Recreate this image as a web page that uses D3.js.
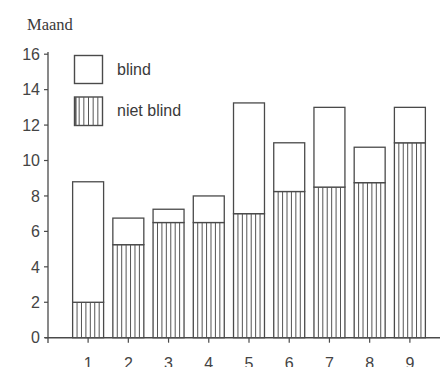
<!DOCTYPE html>
<html>
<head>
<meta charset="utf-8">
<script src="https://cdn.jsdelivr.net/npm/d3@7"></script>
<style>
  html, body { margin: 0; padding: 0; background: #fff; }
  svg { display: block; }
</style>
</head>
<body>
<script>
const categories = ["1", "2", "3", "4", "5", "6", "7", "8", "9"];
const nietBlind = [2.0, 5.25, 6.5, 6.5, 7.0, 8.25, 8.5, 8.75, 11.0];
const blind = [6.8, 1.5, 0.75, 1.5, 6.25, 2.75, 4.5, 2.0, 2.0];
const yTicks = [0, 2, 4, 6, 8, 10, 12, 14, 16];
const legendLabels = ["blind", "niet blind"];
const yTitle = "Maand";

const W = 440, H = 367;
const svg = d3.select("body").append("svg").attr("width", W).attr("height", H);

const ink = "#4a4a4a";
const x = d3.scaleBand().domain(categories).range([68, 430]).paddingInner(0.23).paddingOuter(0.115);
const y = d3.scaleLinear().domain([0, 16]).range([337.7, 54.2]);

// Y axis
svg.append("line").attr("x1", 48).attr("x2", 48).attr("y1", 52).attr("y2", 343)
  .attr("stroke", ink).attr("stroke-width", 1.3);
const yt = svg.append("g");
yTicks.forEach(t => {
  yt.append("line").attr("x1", 44).attr("x2", 48).attr("y1", y(t)).attr("y2", y(t))
    .attr("stroke", ink).attr("stroke-width", 1.2);
  yt.append("text").attr("x", 40).attr("y", y(t)).attr("dy", "0.36em")
    .attr("text-anchor", "end").attr("font-family", "Liberation Sans, Arial, sans-serif")
    .attr("font-size", 16).attr("fill", "#444").text(t);
});

// X axis
svg.append("line").attr("x1", 45).attr("x2", 440).attr("y1", y(0)).attr("y2", y(0))
  .attr("stroke", ink).attr("stroke-width", 1.4);
categories.forEach(c => {
  const cx = x(c) + x.bandwidth() / 2;
  svg.append("line").attr("x1", cx).attr("x2", cx).attr("y1", y(0)).attr("y2", y(0) + 5)
    .attr("stroke", ink).attr("stroke-width", 1.2);
  svg.append("text").attr("x", cx).attr("y", 368.5).attr("text-anchor", "middle")
    .attr("font-family", "Liberation Sans, Arial, sans-serif").attr("font-size", 16)
    .attr("fill", "#444").text(c);
});

// Bars
const bars = svg.append("g");
categories.forEach((c, i) => {
  const x0 = x(c), bw = x.bandwidth();
  const yN = y(nietBlind[i]), yT = y(nietBlind[i] + blind[i]);
  // niet blind (hatched)
  bars.append("rect").attr("x", x0).attr("y", yN).attr("width", bw).attr("height", y(0) - yN)
    .attr("fill", "#fff").attr("stroke", ink).attr("stroke-width", 1.3);
  const n = 7;
  for (let k = 1; k < n; k++) {
    const lx = x0 + bw * k / n;
    bars.append("line").attr("x1", lx).attr("x2", lx).attr("y1", yN).attr("y2", y(0))
      .attr("stroke", "#555").attr("stroke-width", 1);
  }
  // blind (open)
  bars.append("rect").attr("x", x0).attr("y", yT).attr("width", bw).attr("height", yN - yT)
    .attr("fill", "#fff").attr("stroke", ink).attr("stroke-width", 1.3);
});

// Legend
const lg = svg.append("g");
lg.append("rect").attr("x", 74.5).attr("y", 55.5).attr("width", 28).attr("height", 28)
  .attr("fill", "#fff").attr("stroke", ink).attr("stroke-width", 1.4);
lg.append("rect").attr("x", 74.5).attr("y", 97).attr("width", 28).attr("height", 28.5)
  .attr("fill", "#fff").attr("stroke", ink).attr("stroke-width", 1.4);
for (let k = 1; k < 6; k++) {
  const lx = 74.5 + 28 * k / 6;
  lg.append("line").attr("x1", lx).attr("x2", lx).attr("y1", 97).attr("y2", 125.5)
    .attr("stroke", "#555").attr("stroke-width", 1);
}
lg.append("line").attr("x1", 75.8).attr("x2", 75.8).attr("y1", 97).attr("y2", 125.5)
  .attr("stroke", "#555").attr("stroke-width", 1.5);
lg.append("text").attr("x", 117).attr("y", 69.5).attr("dy", "0.36em")
  .attr("font-family", "Liberation Sans, Arial, sans-serif").attr("font-size", 16)
  .attr("fill", "#3a3a3a").text(legendLabels[0]);
lg.append("text").attr("x", 117).attr("y", 110.5).attr("dy", "0.36em")
  .attr("font-family", "Liberation Sans, Arial, sans-serif").attr("font-size", 16)
  .attr("fill", "#3a3a3a").text(legendLabels[1]);

// Y title
svg.append("text").attr("x", 27).attr("y", 29.5)
  .attr("font-family", "Liberation Serif, Times New Roman, serif").attr("font-size", 16.5)
  .attr("fill", "#3a3a3a").text(yTitle);
</script>
</body>
</html>
